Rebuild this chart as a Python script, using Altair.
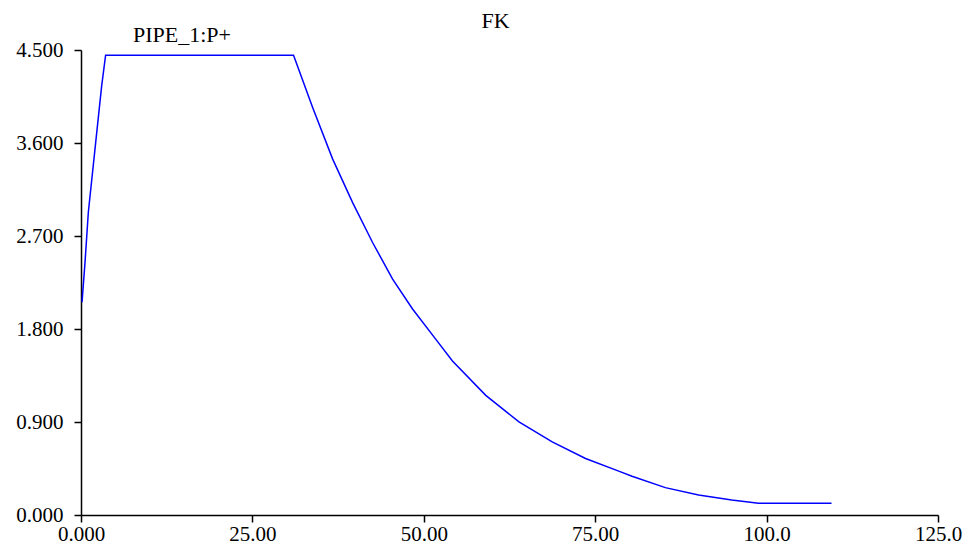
import altair as alt
import pandas as pd

# Series values (time, pressure)
t_vals = [0.15, 0.58, 1.07, 2.04, 3.01, 3.59, 31.0, 33.8, 36.71, 39.62, 42.53, 45.45,
          48.36, 51.76, 54.18, 59.04, 63.88, 68.73, 73.59, 78.43, 80.37, 85.23,
          90.08, 94.92, 98.81, 109.47]
p_vals = [2.06, 2.44, 2.93, 3.54, 4.15, 4.45, 4.45, 3.94, 3.444, 3.023, 2.637, 2.283,
          1.994, 1.70, 1.49, 1.158, 0.901, 0.708, 0.547, 0.425, 0.375, 0.265,
          0.193, 0.145, 0.113, 0.113]
series_name = "PIPE_1:P+"
title_text = "FK"
x_ticks = [0, 25, 50, 75, 100, 125]
y_ticks = [0, 0.9, 1.8, 2.7, 3.6, 4.5]

df = pd.DataFrame({"t": t_vals, "p": p_vals})

FONT = "Liberation Serif"
FS = 21
FS_T = 22

line = alt.Chart(df).mark_line(color="#0000FF", strokeWidth=1.5, clip=False).encode(
    x=alt.X("t:Q", scale=alt.Scale(domain=[0, 125], nice=False, zero=False),
            axis=alt.Axis(values=x_ticks, title=None, grid=False,
                          labelExpr="datum.value == 0 ? '0.000' : format(datum.value, '.4r')",
                          tickSize=7, labelPadding=1,
                          labelFlush=False, labelOverlap=False)),
    y=alt.Y("p:Q", scale=alt.Scale(domain=[0, 4.5], nice=False),
            axis=alt.Axis(values=y_ticks, format=".3f", title=None, grid=False,
                          tickSize=7, labelPadding=11,
                          labelFlush=False, labelOverlap=False)),
)

label = alt.Chart(pd.DataFrame({"name": [series_name]})).mark_text(
    font=FONT, fontSize=FS_T, align="left", baseline="alphabetic", color="black"
).encode(
    text="name:N",
    x=alt.value(52),
    y=alt.value(-8.5),
)

chart = (line + label).properties(
    width=857,
    height=465,
    title=alt.TitleParams(title_text, font=FONT, fontSize=FS_T, fontWeight="normal",
                          color="black", anchor="middle", dx=-14, offset=-9.5),
    autosize=alt.AutoSizeParams(type="none"),
    padding={"left": 73, "top": 42, "right": 24, "bottom": 32},
).configure(background="white").configure_view(stroke=None).configure_axis(
    labelFont=FONT, labelFontSize=FS, labelColor="black",
    domainColor="black", tickColor="black", domainWidth=1.5, tickWidth=1.5,
)

chart.save("out.html", embed_options={"renderer": "svg", "actions": False})
